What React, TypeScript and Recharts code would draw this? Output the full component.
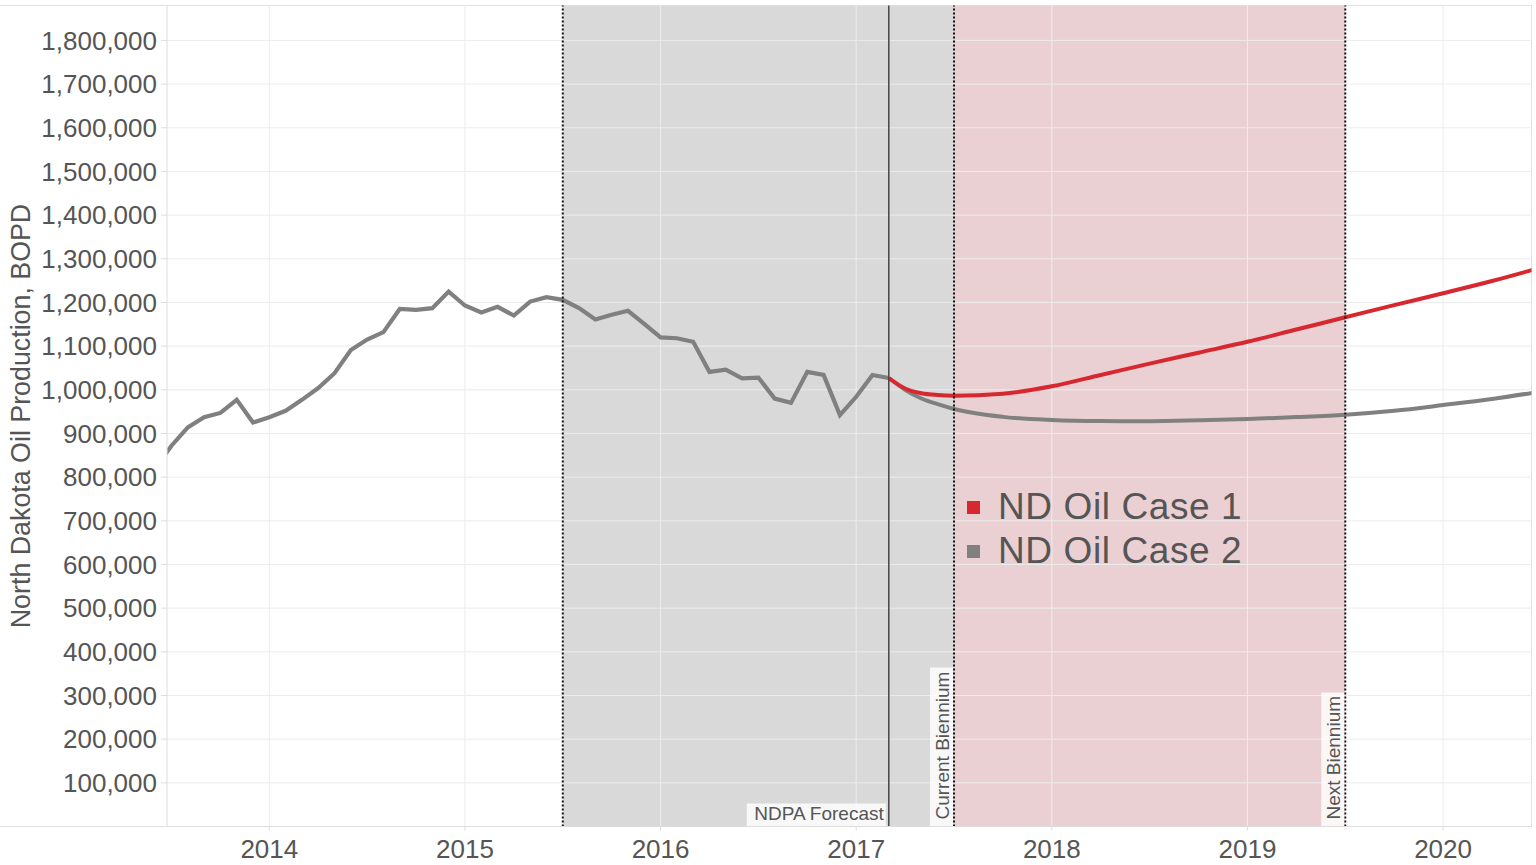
import React from 'react';
import {
  ComposedChart,
  Line,
  XAxis,
  YAxis,
  ReferenceArea,
  ReferenceLine,
  Legend,
} from 'recharts';

// ---------- data ----------
const historyMonths = [
  '2013-06', '2013-07', '2013-08', '2013-09', '2013-10', '2013-11', '2013-12',
  '2014-01', '2014-02', '2014-03', '2014-04', '2014-05', '2014-06', '2014-07',
  '2014-08', '2014-09', '2014-10', '2014-11', '2014-12',
  '2015-01', '2015-02', '2015-03', '2015-04', '2015-05', '2015-06', '2015-07',
  '2015-08', '2015-09', '2015-10', '2015-11', '2015-12',
  '2016-01', '2016-02', '2016-03', '2016-04', '2016-05', '2016-06', '2016-07',
  '2016-08', '2016-09', '2016-10', '2016-11', '2016-12',
  '2017-01', '2017-02', '2017-03',
];
const historyValues = [
  821000, 872000, 914000, 937000, 947000, 977000, 925000,
  937000, 952000, 977000, 1004000, 1038000, 1091000, 1115000,
  1132000, 1185000, 1183000, 1187000, 1225000,
  1193000, 1177000, 1190000, 1170000, 1202000, 1212000, 1206000,
  1187000, 1161000, 1172000, 1181000, 1151000,
  1120000, 1118000, 1110000, 1041000, 1046000, 1026000, 1028000,
  980000, 970000, 1041000, 1034000, 942000,
  984000, 1034000, 1027000,
];

const forecastMonths = [
  '2017-03', '2017-04', '2017-05', '2017-06', '2017-07', '2017-10',
  '2018-01', '2018-04', '2018-07', '2018-10',
  '2019-01', '2019-04', '2019-07', '2019-10',
  '2020-01', '2020-04', '2020-07',
];
const case1Values = [
  1027000, 1003000, 992000, 988000, 986500, 991000,
  1008000, 1034000, 1060000, 1085000,
  1110000, 1138000, 1166000, 1194000,
  1221000, 1249000, 1280000,
];
const case2Values = [
  1027000, 1000000, 980000, 967000, 956000, 938000,
  931000, 928500, 928000, 930000,
  933000, 937500, 943000, 952000,
  965000, 979000, 996000,
];

const yearTicks = [2014, 2015, 2016, 2017, 2018, 2019, 2020];
const valueTicks = [
  100000, 200000, 300000, 400000, 500000, 600000, 700000, 800000, 900000,
  1000000, 1100000, 1200000, 1300000, 1400000, 1500000, 1600000, 1700000, 1800000,
];

const seriesNames = ['ND Oil Case 1', 'ND Oil Case 2'];
const seriesColors = ['#d7282f', '#808080'];

const shadeHistoryStart = '2015-07';
const forecastStart = '2017-03';
const currentBiennium = '2017-07';
const nextBiennium = '2019-07';

const axisStart = 2013.477;
const axisEnd = 2020.452;
const valueMax = 1880000;

// ---------- helpers ----------
const toYear = (m: string) => {
  const [y, mo] = m.split('-').map(Number);
  return y + (mo - 1) / 12;
};

const historyData = historyMonths.map((m, i) => ({ t: toYear(m), v: historyValues[i] }));
const case1Data = forecastMonths.map((m, i) => ({ t: toYear(m), v: case1Values[i] }));
const case2Data = forecastMonths.map((m, i) => ({ t: toYear(m), v: case2Values[i] }));

const minorTicks: number[] = [];
for (let y = 2013; y <= 2020; y++) {
  for (let mo = 0; mo < 12; mo++) {
    const t = y + mo / 12;
    if (t > axisStart && t < axisEnd && mo !== 0) minorTicks.push(t);
  }
}

const FONT = "'Liberation Sans', Arial, Helvetica, sans-serif";
const TXT = '#555555';
const GRID = '#ececec';

const fmt = (v: number) => v.toLocaleString('en-US');

const ndpaLabel = (props: any) => {
  const vb = props.viewBox || {};
  const x = vb.x;
  const bottom = vb.y + vb.height;
  return (
    <g>
      <rect x={x - 142} y={bottom - 23} width={139} height={23} fill="#ffffff" fillOpacity={0.82} />
      <text x={x - 5} y={bottom - 6.5} textAnchor="end" fontSize={19} fill={TXT} fontFamily={FONT}>
        NDPA Forecast
      </text>
    </g>
  );
};

const makeVerticalLabel = (text: string, boxLen: number) => (props: any) => {
  const vb = props.viewBox || {};
  const x = vb.x;
  const bottom = vb.y + vb.height;
  return (
    <g>
      <rect x={x - 24} y={bottom - boxLen} width={23} height={boxLen} fill="#ffffff" fillOpacity={0.82} />
      <text
        transform={`translate(${x - 5.5},${bottom - 7}) rotate(-90)`}
        textAnchor="start"
        fontSize={19}
        fill={TXT}
        fontFamily={FONT}
      >
        {text}
      </text>
    </g>
  );
};

const yLabel = () => (
  <text
    transform="translate(30,416) rotate(-90)"
    textAnchor="middle"
    fontSize={26.8}
    fill={TXT}
    fontFamily={FONT}
  >
    North Dakota Oil Production, BOPD
  </text>
);

const renderLegend = () => (
  <div style={{ fontFamily: FONT, color: TXT }}>
    {seriesNames.map((name, i) => (
      <div key={name} style={{ display: 'flex', alignItems: 'center', height: 44 }}>
        <div style={{ width: 13, height: 13, background: seriesColors[i], marginRight: 18 }} />
        <span style={{ fontSize: 37, letterSpacing: 0.6, lineHeight: '44px', whiteSpace: 'nowrap' }}>
          {name}
        </span>
      </div>
    ))}
  </div>
);

export default function App() {
  return (
    <div style={{ position: 'absolute', left: 0, top: 0, width: 1536, height: 865, background: '#fff' }}>
      <div
        style={{
          position: 'absolute',
          left: 0,
          top: 5,
          width: 1532,
          height: 822,
          boxSizing: 'border-box',
          borderTop: '1px solid #e2e2e2',
          borderBottom: '1px solid #e2e2e2',
          borderRight: '1px solid #e2e2e2',
        }}
      />
      <div style={{ position: 'absolute', left: 0, top: 0 }}>
        <ComposedChart
          width={1536}
          height={865}
          margin={{ top: 5.5, right: 4.5, bottom: 0, left: 0 }}
          style={{ fontFamily: FONT }}
        >
          <ReferenceArea
            x1={toYear(shadeHistoryStart)}
            x2={toYear(currentBiennium)}
            fill="#d9d9d9"
            fillOpacity={1}
            stroke="none"
            ifOverflow="hidden"
          />
          <ReferenceArea
            x1={toYear(currentBiennium)}
            x2={toYear(nextBiennium)}
            fill="#ebd0d3"
            fillOpacity={1}
            stroke="none"
            ifOverflow="hidden"
          />
          {valueTicks.map((v) => (
            <ReferenceLine key={`gy${v}`} y={v} stroke={GRID} strokeWidth={1} />
          ))}
          {yearTicks.map((v) => (
            <ReferenceLine key={`gx${v}`} x={v} stroke={GRID} strokeWidth={1} />
          ))}
          <XAxis
            xAxisId="minor"
            dataKey="t"
            type="number"
            domain={[axisStart, axisEnd]}
            allowDataOverflow
            ticks={minorTicks}
            tick={false}
            tickSize={3}
            tickLine={{ stroke: '#dddddd' }}
            axisLine={false}
            height={0}
          />
          <XAxis
            dataKey="t"
            type="number"
            domain={[axisStart, axisEnd]}
            allowDataOverflow
            ticks={yearTicks}
            tickFormatter={(v: number) => String(v)}
            tick={{ fontSize: 26, fill: TXT, fontFamily: FONT }}
            tickSize={4}
            tickMargin={9}
            tickLine={{ stroke: '#dddddd' }}
            axisLine={{ stroke: '#dddddd' }}
            height={38.5}
          />
          <YAxis
            type="number"
            domain={[0, valueMax]}
            allowDataOverflow
            ticks={valueTicks}
            tickFormatter={fmt}
            tick={{ fontSize: 26, fill: TXT, fontFamily: FONT }}
            tickSize={6}
            tickMargin={4}
            tickLine={{ stroke: '#dddddd' }}
            axisLine={{ stroke: '#dddddd' }}
            width={167}
            label={yLabel}
          />
          <Line
            data={historyData}
            dataKey="v"
            type="linear"
            stroke={seriesColors[1]}
            strokeWidth={4.2}
            dot={false}
            isAnimationActive={false}
            legendType="none"
            name="history"
          />
          <Line
            data={case2Data}
            dataKey="v"
            type="monotone"
            stroke={seriesColors[1]}
            strokeWidth={4}
            dot={false}
            isAnimationActive={false}
            name={seriesNames[1]}
          />
          <Line
            data={case1Data}
            dataKey="v"
            type="monotone"
            stroke={seriesColors[0]}
            strokeWidth={4}
            dot={false}
            isAnimationActive={false}
            name={seriesNames[0]}
          />
          <ReferenceLine
            x={toYear(shadeHistoryStart)}
            stroke="#111"
            strokeWidth={2}
            strokeDasharray="2 2"
          />
          <ReferenceLine
            x={toYear(forecastStart)}
            stroke="#444"
            strokeWidth={1.5}
            label={ndpaLabel}
          />
          <ReferenceLine
            x={toYear(currentBiennium)}
            stroke="#111"
            strokeWidth={2}
            strokeDasharray="2 2"
            label={makeVerticalLabel('Current Biennium', 159)}
          />
          <ReferenceLine
            x={toYear(nextBiennium)}
            stroke="#111"
            strokeWidth={2}
            strokeDasharray="2 2"
            label={makeVerticalLabel('Next Biennium', 134)}
          />
          <Legend
            layout="vertical"
            align="center"
            verticalAlign="middle"
            content={renderLegend}
            wrapperStyle={{ left: 967, top: 485, width: 'auto', height: 'auto' }}
          />
        </ComposedChart>
      </div>
    </div>
  );
}
